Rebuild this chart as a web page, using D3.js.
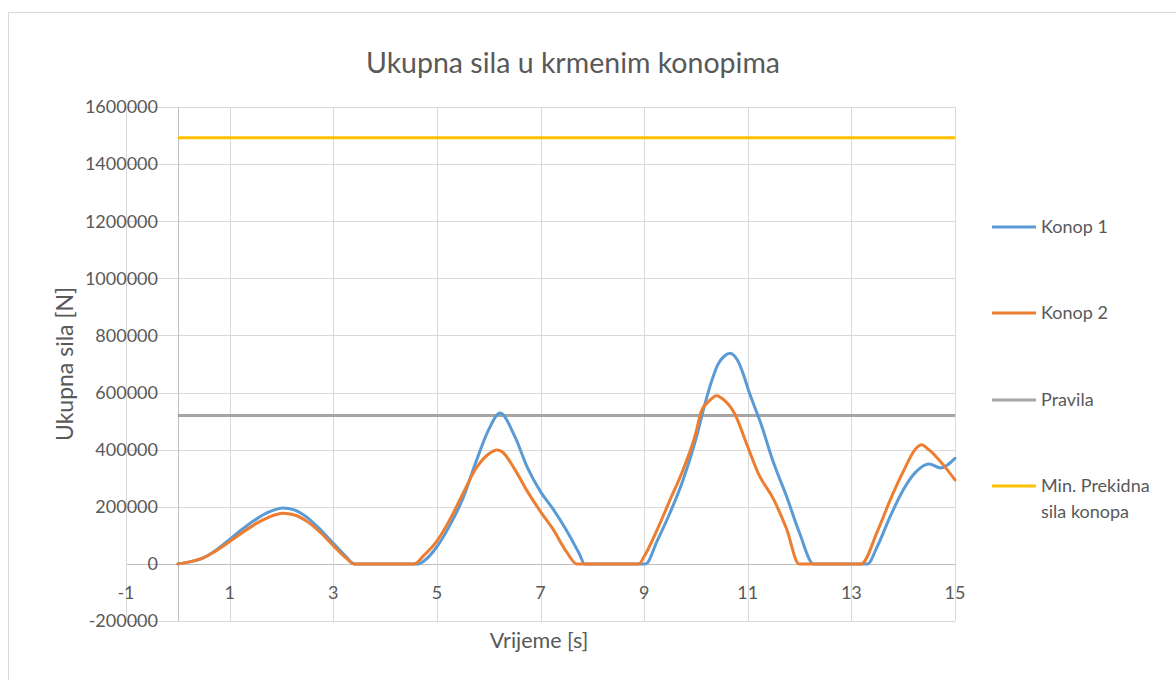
<!DOCTYPE html>
<html>
<head>
<meta charset="utf-8">
<script src="https://cdn.jsdelivr.net/npm/d3@7"></script>
<style>
  html, body { margin: 0; padding: 0; background: #ffffff; }
  svg { display: block; }
  text { font-family: Lato, "Open Sans", sans-serif; fill: #595959; }
</style>
</head>
<body>
<svg id="chart" width="1176" height="680"></svg>
<script>
// Rope 1: sample times (s) and total force (N)
const konop1Times = [
  0, 0.25, 0.5, 0.75, 1, 1.25, 1.5, 1.75, 2.03, 2.25, 2.5, 2.75, 3, 3.25, 3.4,
  4.65, 4.75, 5, 5.25, 5.5, 5.75, 6, 6.22, 6.5, 6.75, 7, 7.25, 7.5, 7.75, 7.85,
  9.03, 9.25, 9.5, 9.75, 10, 10.16, 10.29, 10.42, 10.55, 10.66, 10.8, 10.93, 11, 11.25, 11.5, 11.75, 12, 12.27,
  13.31, 13.5, 13.75, 14, 14.25, 14.5, 14.72, 15
];
const konop1 = [
  0, 8000, 22000, 50000, 86000, 122000, 155000, 181000, 196000, 189000, 162000, 120000, 72000, 25000, 0,
  0, 10000, 60000, 135000, 228000, 355000, 470000, 528000, 448000, 336000, 253000, 190000, 118000, 35000, 0,
  0, 80000, 179000, 293000, 438000, 551000, 633000, 697000, 728000, 738000, 714000, 656000, 616000, 493000, 353000, 236000, 108000, 0,
  0, 61000, 166000, 259000, 323000, 350000, 336000, 370000
];

// Rope 2: sample times (s) and total force (N)
const konop2Times = [
  0, 0.25, 0.5, 0.75, 1, 1.25, 1.5, 1.75, 2.03, 2.25, 2.5, 2.75, 3, 3.25, 3.4,
  4.56, 4.75, 5, 5.25, 5.5, 5.75, 6, 6.16, 6.25, 6.5, 6.75, 7, 7.25, 7.5, 7.7,
  8.9, 9, 9.25, 9.5, 9.75, 10, 10.1, 10.25, 10.4, 10.5, 10.75, 11, 11.2, 11.5, 11.75, 11.99,
  13.19, 13.5, 13.75, 14, 14.25, 14.35, 14.5, 14.75, 15
];
const konop2 = [
  0, 8000, 22000, 47000, 78000, 110000, 140000, 163000, 177000, 171000, 148000, 110000, 64000, 20000, 0,
  0, 30000, 80000, 155000, 245000, 333000, 385000, 399000, 394000, 332000, 253000, 183000, 119000, 43000, 0,
  0, 26000, 119000, 224000, 329000, 460000, 533000, 570000, 589000, 580000, 525000, 410000, 318000, 226000, 122000, 0,
  0, 113000, 224000, 323000, 405000, 417000, 399000, 352000, 294000
];

// Constant reference levels (N)
const refTimes = [0, 15];
const pravila = [520000, 520000];
const minPrekidna = [1492000, 1492000];

// Axis ticks
const yTicks = [-200000, 0, 200000, 400000, 600000, 800000, 1000000, 1200000, 1400000, 1600000];
const xTicks = [-1, 1, 3, 5, 7, 9, 11, 13, 15];

const seriesNames = ["Konop 1", "Konop 2", "Pravila", "Min. Prekidna sila konopa"];
const seriesColors = ["#5b9bd5", "#ed7d31", "#a5a5a5", "#ffc000"];

const svg = d3.select("#chart");

// Chart area frame
svg.append("rect")
  .attr("x", 8.5).attr("y", 12.5)
  .attr("width", 1200).attr("height", 700)
  .attr("fill", "#ffffff").attr("stroke", "#d9d9d9").attr("stroke-width", 1);

const plot = { left: 126, right: 955, top: 107, bottom: 621 };

const x = d3.scaleLinear().domain([-1, 15]).range([plot.left, plot.right]);
const y = d3.scaleLinear().domain([-200000, 1600000]).range([plot.bottom, plot.top]);

// Gridlines
const grid = svg.append("g").attr("shape-rendering", "crispEdges");
grid.selectAll("line.h").data(yTicks).join("line")
  .attr("x1", plot.left).attr("x2", plot.right)
  .attr("y1", d => Math.round(y(d)) + 0.5).attr("y2", d => Math.round(y(d)) + 0.5)
  .attr("stroke", d => d === 0 ? "#bfbfbf" : "#d9d9d9").attr("stroke-width", 1);
grid.selectAll("line.v").data(xTicks).join("line")
  .attr("x1", d => Math.round(x(d)) + 0.5).attr("x2", d => Math.round(x(d)) + 0.5)
  .attr("y1", plot.top).attr("y2", plot.bottom)
  .attr("stroke", "#d9d9d9").attr("stroke-width", 1);
// Vertical axis line at t = 0
grid.append("line")
  .attr("x1", Math.round(x(0)) + 0.5).attr("x2", Math.round(x(0)) + 0.5)
  .attr("y1", plot.top).attr("y2", plot.bottom)
  .attr("stroke", "#bfbfbf").attr("stroke-width", 1);

// Y tick labels
svg.append("g").selectAll("text").data(yTicks).join("text")
  .attr("x", 158).attr("y", d => y(d))
  .attr("dy", "0.35em")
  .attr("text-anchor", "end")
  .attr("font-size", 18)
  .text(d => String(d));

// X tick labels
svg.append("g").selectAll("text").data(xTicks).join("text")
  .attr("x", d => x(d)).attr("y", 593)
  .attr("dy", "0.35em")
  .attr("text-anchor", "middle")
  .attr("font-size", 18)
  .text(d => String(d));

// Series lines
const smooth = d3.line()
  .x(d => x(d[0]))
  .y(d => y(d[1]))
  .curve(d3.curveMonotoneX);
const straight = d3.line().x(d => x(d[0])).y(d => y(d[1]));

const lines = svg.append("g").attr("fill", "none").attr("stroke-width", 3)
  .attr("stroke-linejoin", "round").attr("stroke-linecap", "round");
lines.append("path").attr("d", straight(d3.zip(refTimes, minPrekidna))).attr("stroke", seriesColors[3]).attr("stroke-linecap", "butt");
lines.append("path").attr("d", straight(d3.zip(refTimes, pravila))).attr("stroke", seriesColors[2]).attr("stroke-linecap", "butt");
lines.append("path").attr("d", smooth(d3.zip(konop1Times, konop1))).attr("stroke", seriesColors[0]);
lines.append("path").attr("d", smooth(d3.zip(konop2Times, konop2))).attr("stroke", seriesColors[1]);

// Title
svg.append("text")
  .attr("x", 573).attr("y", 63).attr("dy", "0.35em")
  .attr("text-anchor", "middle")
  .attr("font-size", 28.5)
  .text("Ukupna sila u krmenim konopima");

// Axis titles
svg.append("text")
  .attr("transform", "translate(65,364) rotate(-90)")
  .attr("dy", "0.35em")
  .attr("text-anchor", "middle")
  .attr("font-size", 23)
  .text("Ukupna sila [N]");
svg.append("text")
  .attr("x", 539).attr("y", 640).attr("dy", "0.35em")
  .attr("text-anchor", "middle")
  .attr("font-size", 21.5)
  .text("Vrijeme [s]");

// Legend
const legendY = [227, 313, 400, 486];
const legend = svg.append("g");
seriesNames.forEach((name, i) => {
  legend.append("line")
    .attr("x1", 992).attr("x2", 1036)
    .attr("y1", legendY[i]).attr("y2", legendY[i])
    .attr("stroke", seriesColors[i]).attr("stroke-width", 3);
  const rows = i === 3 ? ["Min. Prekidna", "sila konopa"] : [name];
  rows.forEach((w, j) => {
    legend.append("text")
      .attr("x", 1041).attr("y", legendY[i] + j * 26).attr("dy", "0.35em")
      .attr("font-size", 18)
      .text(w);
  });
});
</script>
</body>
</html>
